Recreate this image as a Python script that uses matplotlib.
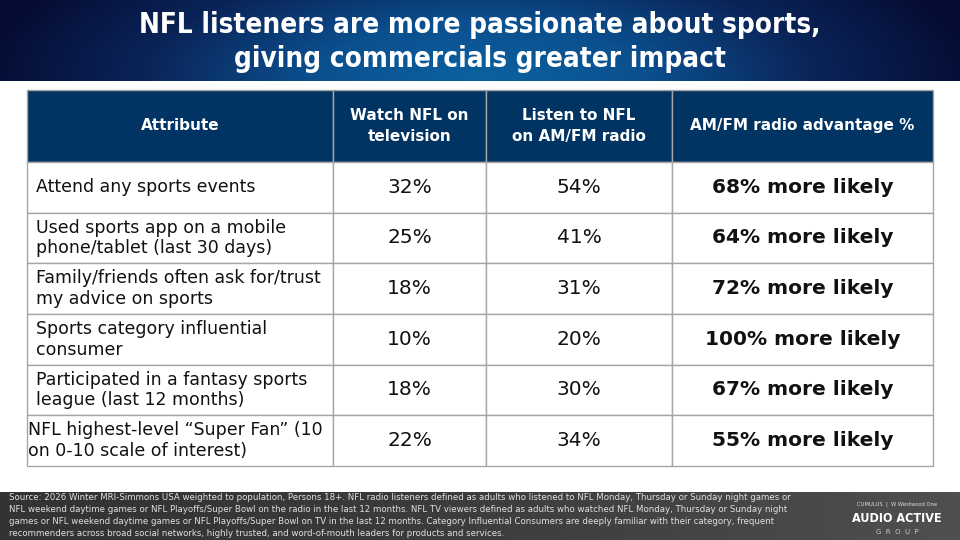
import numpy as np
import matplotlib
matplotlib.use('Agg')
from matplotlib import pyplot as plt
from matplotlib.colors import LinearSegmentedColormap


title_lines = ['NFL listeners are more passionate about sports,',
               'giving commercials greater impact']

col_labels = ['Attribute', 'Watch NFL on\ntelevision',
              'Listen to NFL\non AM/FM radio', 'AM/FM radio advantage %']

attributes = [
    'Attend any sports events',
    'Used sports app on a mobile\nphone/tablet (last 30 days)',
    'Family/friends often ask for/trust\nmy advice on sports',
    'Sports category influential\nconsumer',
    'Participated in a fantasy sports\nleague (last 12 months)',
    'NFL highest-level \u201cSuper Fan\u201d (10\non 0-10 scale of interest)',
]
tv_pct = [32, 25, 18, 10, 18, 22]
radio_pct = [54, 41, 31, 20, 30, 34]
advantage_pct = [68, 64, 72, 100, 67, 55]

source_lines = [
    'Source: 2026 Winter MRI-Simmons USA weighted to population, Persons 18+. NFL radio listeners defined as adults who listened to NFL Monday, Thursday or Sunday night games or',
    'NFL weekend daytime games or NFL Playoffs/Super Bowl on the radio in the last 12 months. NFL TV viewers defined as adults who watched NFL Monday, Thursday or Sunday night',
    'games or NFL weekend daytime games or NFL Playoffs/Super Bowl on TV in the last 12 months. Category Influential Consumers are deeply familiar with their category, frequent',
    'recommenders across broad social networks, highly trusted, and word-of-mouth leaders for products and services.',
]

W, H = 960, 540
fig = plt.figure(figsize=(9.6, 5.4), dpi=100)
ax = fig.add_axes([0, 0, 1, 1])
ax.set_xlim(0, W)
ax.set_ylim(H, 0)
ax.axis('off')

# title band: dark navy edges, lighter blue in the middle
xx, yy = np.meshgrid(np.linspace(-1, 1, 400), np.linspace(0, 1, 60))
glow = np.clip(1 - np.sqrt((xx / 1.05) ** 2 + ((1 - yy) / 2.2) ** 2), 0, 1)
blue_cmap = LinearSegmentedColormap.from_list('band', ['#050c33', '#0a2458', '#0b4f8e', '#0b62a0'])
ax.imshow(glow, cmap=blue_cmap, extent=[0, W, 81, 0], aspect='auto', zorder=0)

for i, line in enumerate(title_lines):
    ax.text(W / 2, 25 + i * 34, line, color='white', fontsize=20, fontweight='bold',
            family='DejaVu Sans', fontstretch='condensed', ha='center', va='center')

# footer band
fx = np.linspace(0, 1, 400)
shade = np.tile(0.25 + 0.55 * fx ** 1.5, (20, 1))
gray_cmap = LinearSegmentedColormap.from_list('foot', ['#262626', '#5a5a5a'])
ax.imshow(shade, cmap=gray_cmap, vmin=0, vmax=1, extent=[0, W, H, 492],
          aspect='auto', zorder=0)
for i, line in enumerate(source_lines):
    ax.text(9, 498 + i * 12, line, color='#e0e0e0', fontsize=6.2,
            family='DejaVu Sans', ha='left', va='center')

# logo
ax.text(897, 504, 'CUMULUS  |  W Westwood One', color='#dddddd', fontsize=3.8,
        ha='center', va='center')
ax.text(897, 518, 'AUDIO ACTIVE', color='white', fontsize=9, fontweight='bold',
        family='DejaVu Sans', fontstretch='condensed', ha='center', va='center')
ax.text(897, 532, 'G  R  O  U  P', color='#cccccc', fontsize=5,
        ha='center', va='center')

# table
cell_text = [[a, f'{t}%', f'{r}%', f'{v}% more likely']
             for a, t, r, v in zip(attributes, tv_pct, radio_pct, advantage_pct)]
col_widths = [306, 153, 186, 261]
left, right, top, bottom = 27, 933, 90, 466
tbl = ax.table(cellText=cell_text, colLabels=col_labels, colWidths=col_widths,
               cellLoc='center',
               bbox=[left / W, 1 - bottom / H, (right - left) / W, (bottom - top) / H])
tbl.auto_set_font_size(False)

header_h, row_h = 72, 50.7
n_rows = len(attributes)
for (r, c), cell in tbl.get_celld().items():
    cell.set_edgecolor('#a6a6a6')
    cell.set_linewidth(1)
    txt = cell.get_text()
    txt.set_family('DejaVu Sans')
    if r == 0:
        cell.set_height(header_h)
        cell.set_facecolor('#023463')
        txt.set_color('white')
        txt.set_fontweight('bold')
        txt.set_fontsize(11)
        txt.set_linespacing(1.45)
    else:
        cell.set_height(row_h)
        cell.set_facecolor('white')
        txt.set_color('#111111')
        txt.set_fontsize(14.5)
        if c == 0:
            cell.set_text_props(ha='left')
            cell._loc = 'left'
            cell.PAD = 0.003 if r == n_rows else 0.03
            txt.set_fontsize(12.5)
            txt.set_linespacing(1.2)
        if c == 3:
            txt.set_fontweight('bold')
            txt.set_fontsize(14.5)

fig.savefig('out.png', dpi=100)
